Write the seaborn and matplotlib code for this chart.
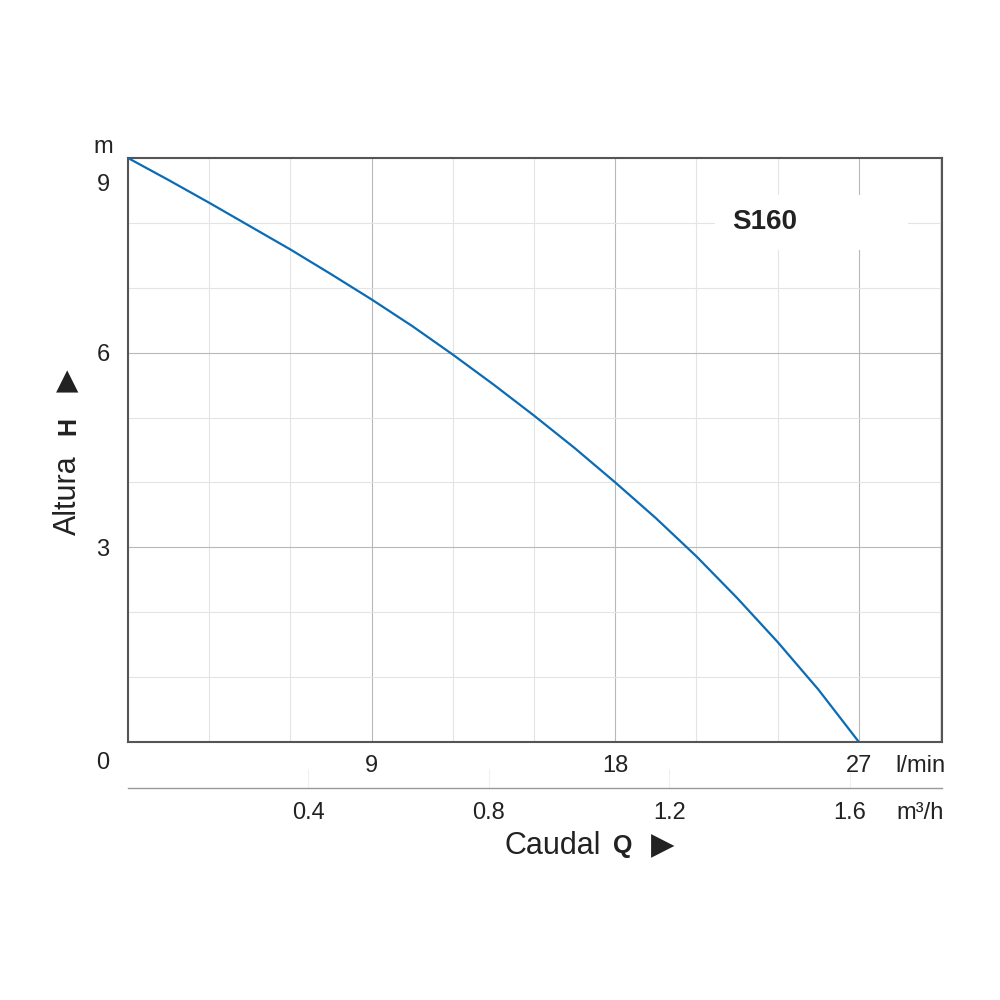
import matplotlib
matplotlib.use("Agg")
import matplotlib.pyplot as plt
import matplotlib.patches as mpatches
import seaborn as sns
import pandas as pd

# Curva de la bomba S160
caudal_lmin = [0, 1.5, 3, 4.5, 6, 7.5, 9, 10.5, 12, 13.5, 15, 16.5, 18, 19.5,
               21, 22.5, 24, 25.5, 27]
altura_m = [9.0, 8.66, 8.31, 7.95, 7.59, 7.21, 6.82, 6.41, 5.97, 5.51, 5.03, 4.53,
            4.00, 3.45, 2.86, 2.22, 1.54, 0.81, 0.0]

x_ticks = [9, 18, 27]
y_ticks = [3, 6]
m3h_ticks = [0.4, 0.8, 1.2, 1.6]
modelo = "S160"

df = pd.DataFrame({"Q": caudal_lmin, "H": altura_m})

sns.set_style("white")
plt.rcParams["font.family"] = ["Liberation Sans Narrow", "Liberation Sans", "DejaVu Sans"]

fig = plt.figure(figsize=(10, 10), dpi=100)
ax = fig.add_axes([0.128, 0.258, 0.814, 0.584])

sns.lineplot(data=df, x="Q", y="H", ax=ax, color="#0b6cb5", linewidth=1.6, zorder=5)

ax.set_xlim(0, 30.07)
ax.set_ylim(0, 9)

# rejilla
ax.set_xticks(x_ticks)
ax.set_xticks(range(0, 31, 3), minor=True)
ax.set_yticks(y_ticks)
ax.set_yticks(range(0, 10), minor=True)
ax.grid(which="major", color="#b8b8b8", linewidth=0.8)
ax.grid(which="minor", color="#e4e4e4", linewidth=0.8)
ax.set_axisbelow(True)
ax.tick_params(which="both", length=0)
ax.tick_params(axis="x", labelsize=17, pad=9, colors="#222222")
ax.tick_params(axis="y", labelsize=17, pad=18, colors="#222222")
for lab in ax.get_yticklabels():
    lab.set_horizontalalignment("center")
ax.set_xlabel("")
ax.set_ylabel("")

for s in ax.spines.values():
    s.set_color("#555555")
    s.set_linewidth(1.5)

# eje secundario m³/h
sec = ax.secondary_xaxis(-0.0788, functions=(lambda q: q * 0.06, lambda m: m / 0.06))
sec.set_xticks(m3h_ticks)
sec.set_xticklabels([str(v) for v in m3h_ticks])
sec.tick_params(direction="in", length=14, color="#f0f0f0", labelsize=17, pad=10,
                labelcolor="#222222")
sec.spines["bottom"].set_color("#999999")
sec.spines["bottom"].set_linewidth(1.0)

# etiqueta del modelo con fondo blanco
ax.add_patch(mpatches.Rectangle((0.7211, 0.8425), 0.237, 0.094, transform=ax.transAxes,
                                facecolor="white", edgecolor="none", zorder=2))
fig.text(0.765, 0.778, modelo, ha="center", va="center", fontsize=20, fontweight="bold",
         color="#222222", family=["Liberation Sans", "DejaVu Sans"])

# textos de ejes
fig.text(0.103, 0.853, "m", ha="center", va="center", fontsize=17, color="#222222")
fig.text(0.103, 0.815, "9", ha="center", va="center", fontsize=17, color="#222222")
fig.text(0.103, 0.237, "0", ha="center", va="center", fontsize=17, color="#222222")
fig.text(0.920, 0.234, "l/min", ha="center", va="center", fontsize=17, color="#222222")
fig.text(0.920, 0.187, "m³/h", ha="center", va="center", fontsize=17, color="#222222")

fig.text(0.553, 0.154, "Caudal", ha="center", va="center", fontsize=22, color="#222222")
fig.text(0.623, 0.154, "Q", ha="center", va="center", fontsize=18, fontweight="bold",
         color="#222222", family=["Liberation Sans", "DejaVu Sans"])
fig.text(0.663, 0.154, "▶", ha="center", va="center", fontsize=22, color="#222222",
         family=["DejaVu Sans"])

fig.text(0.068, 0.505, "Altura", ha="center", va="center", fontsize=22, rotation=90,
         color="#222222")
fig.text(0.068, 0.574, "H", ha="center", va="center", fontsize=18, fontweight="bold",
         rotation=90, color="#222222", family=["Liberation Sans", "DejaVu Sans"])
fig.text(0.067, 0.619, "▲", ha="center", va="center", fontsize=21, color="#222222",
         family=["DejaVu Sans"])

fig.savefig("out.png", dpi=100, facecolor="white")
